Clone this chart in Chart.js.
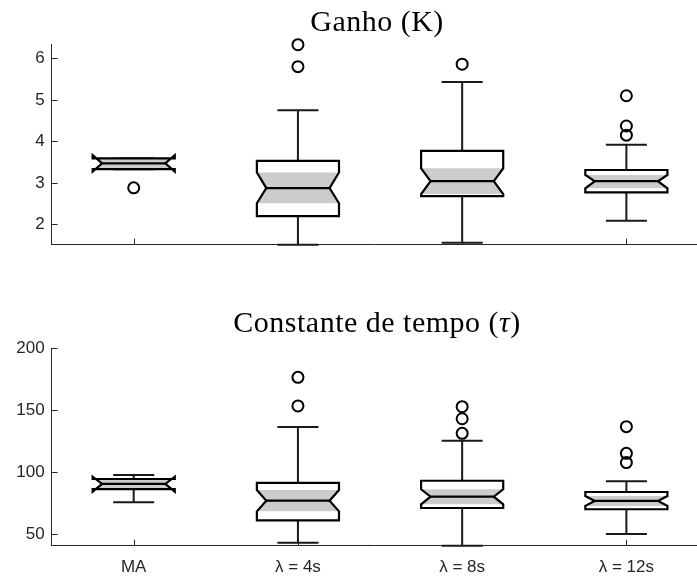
<!DOCTYPE html>
<html>
<head>
<meta charset="utf-8">
<script src="https://cdn.jsdelivr.net/npm/chart.js@4.4.1/dist/chart.umd.min.js"></script>
<style>
  html, body { margin: 0; padding: 0; background: #fff; overflow: hidden; }
  canvas { display: block; }
  #topBox { position: absolute; left: 0; top: 0; width: 697px; height: 289px; }
  #bottomBox { position: absolute; left: 0; top: 289px; width: 697px; height: 288px; }
</style>
</head>
<body>
<div id="topBox"><canvas id="gainChart" width="697" height="289"></canvas></div>
<div id="bottomBox"><canvas id="tauChart" width="697" height="288"></canvas></div>
<script>
// Kategorien
const categories = ['MA', 'λ = 4s', 'λ = 8s', 'λ = 12s'];

// Ganho (K)
const gainWhiskerLo = [3.33, 1.51, 1.56, 2.09];
const gainQ1        = [3.33, 2.20, 2.68, 2.77];
const gainNotchLo   = [3.27, 2.51, 2.73, 2.87];
const gainMedian    = [3.47, 2.875, 3.04, 3.04];
const gainNotchHi   = [3.67, 3.25, 3.35, 3.19];
const gainQ3        = [3.59, 3.53, 3.77, 3.31];
const gainWhiskerHi = [3.59, 4.75, 5.43, 3.92];
const gainOutliers  = [[2.88], [5.80, 6.33], [5.86], [4.15, 4.37, 5.10]];
const gainTicks     = [2, 3, 4, 5, 6];
const gainRange     = [1.51, 6.33];

// Constante de tempo (tau)
const tauWhiskerLo = [75.8, 43.2, 40.8, 50.2];
const tauQ1        = [86.5, 61.3, 71.2, 70.2];
const tauNotchLo   = [84.4, 68.5, 74.2, 72.9];
const tauMedian    = [90.6, 77.1, 80.3, 76.9];
const tauNotchHi   = [96.5, 85.7, 86.3, 80.9];
const tauQ3        = [94.6, 91.4, 93.2, 84.1];
const tauWhiskerHi = [97.8, 136.5, 125.5, 92.7];
const tauOutliers  = [[], [153.5, 176.6], [131.4, 143.2, 152.9], [107.8, 115.3, 136.8]];
const tauTicks     = [50, 100, 150, 200];
const tauRange     = [40.8, 200];

const axisColor = '#262626';
const tickFont = { family: '"Liberation Sans", Arial, sans-serif', size: 17 };

// Boxplot mit Kerben zeichnen (über die Skalen des Diagramms)
const notchBoxPlugin = {
    id: 'notchBox',
    beforeDatasetsDraw(chart, args, opts) {
        const ctx = chart.ctx;
        const xs = chart.scales.x, ys = chart.scales.y;
        const area = chart.chartArea;
        const s = opts.stats;

        // Ticks nach innen (MATLAB-Stil)
        ctx.save();
        ctx.strokeStyle = axisColor;
        ctx.lineWidth = 1;
        ctx.beginPath();
        ys.ticks.forEach(t => {
            const y = Math.round(ys.getPixelForValue(t.value)) + 0.5;
            ctx.moveTo(area.left, y);
            ctx.lineTo(area.left + 6, y);
        });
        categories.forEach((c, i) => {
            const x = Math.round(xs.getPixelForValue(i + 1)) + 0.5;
            ctx.moveTo(x, area.bottom);
            ctx.lineTo(x, area.bottom - 6);
        });
        ctx.stroke();
        ctx.restore();

        categories.forEach((c, i) => {
            const cx = xs.getPixelForValue(i + 1);
            const half = xs.getPixelForValue(i + 1.25) - cx;
            const cap = half / 2;
            const inset = half * 0.77;
            const py = v => ys.getPixelForValue(v);
            const q1 = py(s.q1[i]), q3 = py(s.q3[i]), med = py(s.median[i]);
            const nlo = py(s.notchLo[i]), nhi = py(s.notchHi[i]);
            const wlo = py(s.whiskerLo[i]), whi = py(s.whiskerHi[i]);

            ctx.save();
            // Whisker
            ctx.strokeStyle = '#1a1a1a';
            ctx.lineWidth = 2;
            ctx.beginPath();
            ctx.moveTo(cx, q3); ctx.lineTo(cx, whi);
            ctx.moveTo(cx, q1); ctx.lineTo(cx, wlo);
            ctx.moveTo(cx - cap, whi); ctx.lineTo(cx + cap, whi);
            ctx.moveTo(cx - cap, wlo); ctx.lineTo(cx + cap, wlo);
            ctx.stroke();

            // Umriss
            const outline = () => {
                ctx.beginPath();
                ctx.moveTo(cx - half, q1);
                ctx.lineTo(cx - half, nlo);
                ctx.lineTo(cx - inset, med);
                ctx.lineTo(cx - half, nhi);
                ctx.lineTo(cx - half, q3);
                ctx.lineTo(cx + half, q3);
                ctx.lineTo(cx + half, nhi);
                ctx.lineTo(cx + inset, med);
                ctx.lineTo(cx + half, nlo);
                ctx.lineTo(cx + half, q1);
                ctx.closePath();
            };
            outline();
            ctx.fillStyle = '#ffffff';
            ctx.fill();

            // graue Kerbe, auf die Box begrenzt
            ctx.save();
            ctx.beginPath();
            ctx.rect(cx - half, Math.min(q1, q3), 2 * half, Math.abs(q1 - q3));
            ctx.clip();
            ctx.beginPath();
            ctx.moveTo(cx - half, nlo);
            ctx.lineTo(cx - inset, med);
            ctx.lineTo(cx - half, nhi);
            ctx.lineTo(cx + half, nhi);
            ctx.lineTo(cx + inset, med);
            ctx.lineTo(cx + half, nlo);
            ctx.closePath();
            ctx.fillStyle = '#cccccc';
            ctx.fill();
            ctx.restore();

            outline();
            ctx.strokeStyle = '#000000';
            ctx.lineWidth = 2.2;
            ctx.lineJoin = 'miter';
            ctx.stroke();

            // Median
            ctx.beginPath();
            ctx.moveTo(cx - inset, med);
            ctx.lineTo(cx + inset, med);
            ctx.stroke();
            ctx.restore();
        });
    },
    afterDraw(chart, args, opts) {
        const ctx = chart.ctx;
        const xs = chart.scales.x;
        const center = (chart.chartArea.left + xs.getPixelForValue(4.5)) / 2 - 3;
        const size = 30;
        ctx.save();
        ctx.fillStyle = '#000';
        ctx.textBaseline = 'alphabetic';
        ctx.letterSpacing = '0.5px';
        let total = 0;
        opts.title.forEach(p => {
            ctx.font = (p.italic ? 'italic ' : '') + size + 'px "Liberation Serif", serif';
            p.w = ctx.measureText(p.text).width;
            total += p.w;
        });
        let x = center - total / 2;
        opts.title.forEach(p => {
            ctx.font = (p.italic ? 'italic ' : '') + size + 'px "Liberation Serif", serif';
            ctx.fillText(p.text, x, opts.titleY);
            x += p.w;
        });
        ctx.restore();
    }
};

function makeChart(id, stats, outliers, yTicks, yRange, showLabels, layout, title, titleY) {
    const points = [];
    outliers.forEach((list, i) => list.forEach(v => points.push({ x: i + 1, y: v })));

    return new Chart(document.getElementById(id), {
        type: 'scatter',
        data: {
            datasets: [{
                data: points,
                pointStyle: 'circle',
                pointRadius: 5.5,
                pointBorderWidth: 2,
                pointBorderColor: '#000',
                pointBackgroundColor: 'rgba(0,0,0,0)',
                clip: false
            }]
        },
        options: {
            responsive: false,
            animation: false,
            events: [],
            layout: { autoPadding: false, padding: { top: layout.top, left: 0, right: 0, bottom: 0 } },
            plugins: {
                legend: { display: false },
                tooltip: { enabled: false },
                notchBox: { stats: stats, title: title, titleY: titleY }
            },
            scales: {
                x: {
                    type: 'linear',
                    min: 0.5,
                    max: 4.43,
                    grid: { display: false, drawTicks: false },
                    border: { display: true, color: axisColor, width: 1 },
                    afterBuildTicks: s => { s.ticks = categories.map((c, i) => ({ value: i + 1 })); },
                    afterFit: s => { s.height = layout.xHeight; s.paddingRight = 0; s.paddingLeft = 0; },
                    ticks: {
                        display: showLabels,
                        autoSkip: false,
                        maxRotation: 0,
                        padding: 11,
                        color: axisColor,
                        font: tickFont,
                        callback: v => categories[v - 1]
                    }
                },
                y: {
                    min: yRange[0],
                    max: yRange[1],
                    grid: { display: false, drawTicks: false },
                    border: { display: true, color: axisColor, width: 1 },
                    afterBuildTicks: s => { s.ticks = yTicks.map(v => ({ value: v })); },
                    afterFit: s => { s.width = 51.6; },
                    ticks: {
                        padding: 7,
                        color: axisColor,
                        font: tickFont
                    }
                }
            }
        },
        plugins: [notchBoxPlugin]
    });
}

makeChart('gainChart', {
    whiskerLo: gainWhiskerLo, q1: gainQ1, notchLo: gainNotchLo, median: gainMedian,
    notchHi: gainNotchHi, q3: gainQ3, whiskerHi: gainWhiskerHi
}, gainOutliers, gainTicks, gainRange, false,
    { top: 44.7, xHeight: 289 - 244.7 },
    [{ text: 'Ganho (K)' }], 31);

makeChart('tauChart', {
    whiskerLo: tauWhiskerLo, q1: tauQ1, notchLo: tauNotchLo, median: tauMedian,
    notchHi: tauNotchHi, q3: tauQ3, whiskerHi: tauWhiskerHi
}, tauOutliers, tauTicks, tauRange, true,
    { top: 348.3 - 289, xHeight: 288 - (545.7 - 289) },
    [{ text: 'Constante de tempo (' }, { text: 'τ', italic: true }, { text: ')' }], 42.7);
</script>
</body>
</html>
